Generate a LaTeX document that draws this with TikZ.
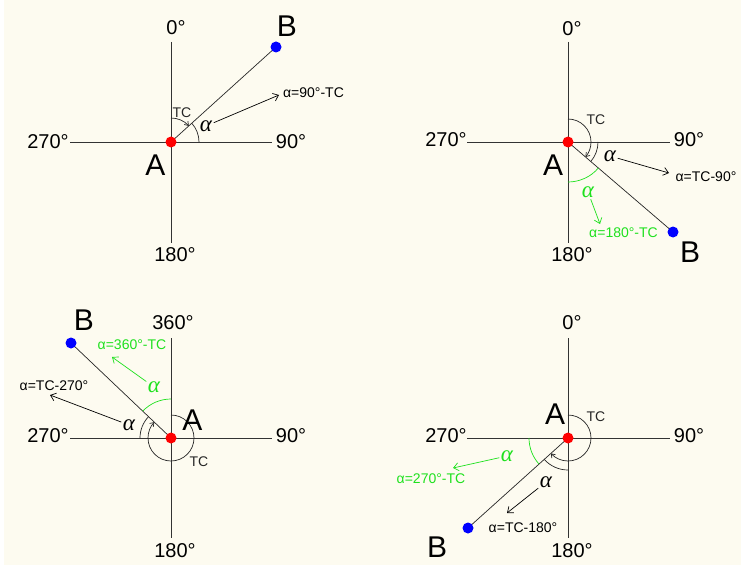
\documentclass[tikz,border=0pt]{standalone}
\usepackage{fontspec}
\setmainfont{Liberation Sans}
\newfontfamily\alphafont{Liberation Serif}
\usetikzlibrary{arrows.meta}
\definecolor{paper}{RGB}{253,251,240}
\definecolor{anglegreen}{RGB}{30,225,30}

\begin{document}
\begin{tikzpicture}[x=1pt,y=1pt,
    axis/.style={line width=0.9pt,black!80},
    ray/.style={line width=0.7pt,black!85},
    arcarrow/.style={-{Straight Barb[length=3.5pt,width=5pt]}},
    pointer/.style={line width=0.7pt,-{Straight Barb[length=5pt,width=8pt]}},
    deglabel/.style={font={\fontsize{20}{22}\selectfont},inner sep=1pt},
    ptlabel/.style={font={\fontsize{30}{32}\selectfont},inner sep=1pt},
    tclabel/.style={font={\fontsize{14}{16}\selectfont},text=black!85,inner sep=1pt},
    alphasym/.style={font={\alphafont\itshape\fontsize{23}{25}\selectfont},inner sep=1.5pt},
    formula/.style={font={\fontsize{14}{16}\selectfont},inner sep=1pt}]
    \useasboundingbox (0,0) rectangle (741,566);
    \fill[white] (0,0) rectangle (741,566);
    \fill[paper] (4,1) rectangle (741,566);

    % top left: B north-east of A
    \coordinate (q1-a) at (171,424);
    \coordinate (q1-b) at (276,519);
    \draw[axis] (171,524) -- (171,323);
    \draw[axis] (70,424) -- (272,424);
    \draw[ray] (q1-a) -- (q1-b);
    \draw[ray,arcarrow] (q1-a) ++(90:24) arc[start angle=90,end angle=42.1,radius=24];
    \draw[ray] (q1-a) ++(0:28) arc[start angle=0,end angle=42.1,radius=28];
    \fill[red] (q1-a) circle (5.5);
    \fill[blue] (q1-b) circle (5.5);
    \node[deglabel] (q1-north) at (176,538) {0°};
    \node[deglabel] (q1-west) at (48,424) {270°};
    \node[deglabel] (q1-east) at (291,424) {90°};
    \node[deglabel] (q1-south) at (175,311) {180°};
    \node[ptlabel] (q1-a-label) at (155.5,401) {A};
    \node[ptlabel] (q1-b-label) at (287,540) {B};
    \node[tclabel] (q1-tc) at (182,453.5) {TC};
    \node[alphasym] (q1-alpha) at (206,440) {α};
    \node[formula] (q1-formula) at (313.5,473.5) {α=90°-TC};
    \coordinate (q1-tip) at (279,471);
    \draw[pointer] (q1-alpha) -- (q1-tip);

    % top right: B south-east of A
    \coordinate (q2-a) at (568,424);
    \coordinate (q2-b) at (673,334);
    \draw[axis] (568,524) -- (568,323);
    \draw[axis] (467,424) -- (670,424);
    \draw[ray] (q2-a) -- (q2-b);
    \draw[ray,arcarrow] (q2-a) ++(90:23) arc[start angle=90,end angle=-40.6,radius=23];
    \draw[ray] (q2-a) ++(0:30) arc[start angle=0,end angle=-40.6,radius=30];
    \draw[anglegreen,line width=0.7pt] (q2-a) ++(-90:40)
        arc[start angle=-90,end angle=-40.6,radius=40];
    \fill[red] (q2-a) circle (5.5);
    \fill[blue] (q2-b) circle (5.5);
    \node[deglabel] (q2-north) at (572,537.5) {0°};
    \node[deglabel] (q2-west) at (446,426) {270°};
    \node[deglabel] (q2-east) at (689,426) {90°};
    \node[deglabel] (q2-south) at (572,311) {180°};
    \node[ptlabel] (q2-a-label) at (553,401) {A};
    \node[ptlabel] (q2-b-label) at (690,314) {B};
    \node[tclabel] (q2-tc) at (596,446) {TC};
    \node[alphasym] (q2-alpha) at (610,410) {α};
    \node[formula] (q2-formula) at (706,389) {α=TC-90°};
    \coordinate (q2-tip) at (669,393);
    \draw[pointer] (q2-alpha) -- (q2-tip);
    \node[alphasym,text=anglegreen] (q2-alpha-green) at (588,374) {α};
    \node[formula,text=anglegreen] (q2-formula-green) at (623.5,333) {α=180°-TC};
    \coordinate (q2-tip-green) at (600,342);
    \draw[pointer,anglegreen] (q2-alpha-green) -- (q2-tip-green);

    % bottom left: B north-west of A
    \coordinate (q3-a) at (171,128);
    \coordinate (q3-b) at (71,223);
    \draw[axis] (171,228) -- (171,28);
    \draw[axis] (70,128) -- (272,128);
    \draw[ray] (q3-a) -- (q3-b);
    \draw[ray,arcarrow] (q3-a) ++(90:23) arc[start angle=90,end angle=-223.5,radius=23];
    \draw[ray] (q3-a) ++(180:31) arc[start angle=180,end angle=136.5,radius=31];
    \draw[anglegreen,line width=0.7pt] (q3-a) ++(90:39)
        arc[start angle=90,end angle=136.5,radius=39];
    \fill[red] (q3-a) circle (5.5);
    \fill[blue] (q3-b) circle (5.5);
    \node[deglabel] (q3-north) at (173,243) {360°};
    \node[deglabel] (q3-west) at (48,130) {270°};
    \node[deglabel] (q3-east) at (291,130) {90°};
    \node[deglabel] (q3-south) at (175,15) {180°};
    \node[ptlabel] (q3-a-label) at (192.5,146) {A};
    \node[ptlabel] (q3-b-label) at (84,246) {B};
    \node[tclabel] (q3-tc) at (199,104) {TC};
    \node[alphasym] (q3-alpha) at (129,141) {α};
    \node[formula] (q3-formula) at (54,180) {α=TC-270°};
    \coordinate (q3-tip) at (50,171);
    \draw[pointer] (q3-alpha) -- (q3-tip);
    \node[alphasym,text=anglegreen] (q3-alpha-green) at (154,179) {α};
    \node[formula,text=anglegreen] (q3-formula-green) at (132,221) {α=360°-TC};
    \coordinate (q3-tip-green) at (112,209);
    \draw[pointer,anglegreen] (q3-alpha-green) -- (q3-tip-green);

    % bottom right: B south-west of A
    \coordinate (q4-a) at (568,128);
    \coordinate (q4-b) at (468,38);
    \draw[axis] (568,228) -- (568,28);
    \draw[axis] (467,128) -- (670,128);
    \draw[ray] (q4-a) -- (q4-b);
    \draw[ray,arcarrow] (q4-a) ++(90:23) arc[start angle=90,end angle=-138,radius=23];
    \draw[ray] (q4-a) ++(-90:32) arc[start angle=-90,end angle=-138,radius=32];
    \draw[anglegreen,line width=0.7pt] (q4-a) ++(180:39)
        arc[start angle=180,end angle=222,radius=39];
    \fill[red] (q4-a) circle (5.5);
    \fill[blue] (q4-b) circle (5.5);
    \node[deglabel] (q4-north) at (572,243) {0°};
    \node[deglabel] (q4-west) at (446,130) {270°};
    \node[deglabel] (q4-east) at (689,130) {90°};
    \node[deglabel] (q4-south) at (572,15) {180°};
    \node[ptlabel] (q4-a-label) at (555,151.5) {A};
    \node[ptlabel] (q4-b-label) at (437,18.5) {B};
    \node[tclabel] (q4-tc) at (596,149) {TC};
    \node[alphasym] (q4-alpha) at (546,84) {α};
    \node[formula] (q4-formula) at (523,38) {α=TC-180°};
    \coordinate (q4-tip) at (507,53);
    \draw[pointer] (q4-alpha) -- (q4-tip);
    \node[alphasym,text=anglegreen] (q4-alpha-green) at (507,110) {α};
    \node[formula,text=anglegreen] (q4-formula-green) at (431,87) {α=270°-TC};
    \coordinate (q4-tip-green) at (453,98);
    \draw[pointer,anglegreen] (q4-alpha-green) -- (q4-tip-green);
\end{tikzpicture}
\end{document}
